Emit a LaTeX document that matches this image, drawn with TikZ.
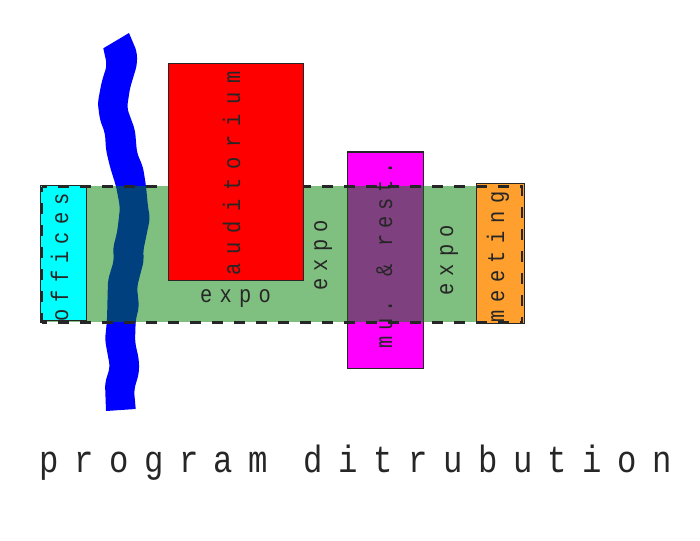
\documentclass[tikz,border=0pt]{standalone}
\usepackage{fontspec}
\setmainfont{Liberation Mono}
\newfontfamily\monofam[FakeStretch=0.85,Ligatures=NoCommon]{Liberation Mono}
\newcommand{\lblsize}[1]{\monofam\addfontfeature{LetterSpace=#1}\fontsize{24}{24}\selectfont}
\definecolor{ink}{HTML}{262626}
\definecolor{roomcyan}{HTML}{00FFFF}
\definecolor{roommag}{HTML}{FF00FF}
\definecolor{roomorange}{HTML}{FFA02E}
\definecolor{bandgreen}{HTML}{008000}
\tikzset{
  room/.style={draw=ink,line width=1pt,inner sep=0pt},
  lbl/.style={inner sep=0pt,text=ink,anchor=base west},
  vlbl/.style={lbl,rotate=90},
  dashline/.style={ink,line width=2.6pt,dash pattern=on 11pt off 11pt,dash phase=5.5pt},
}
\begin{document}
\begin{tikzpicture}[x=1pt,y=-1pt]
\useasboundingbox (0,0) rectangle (700,540);
\fill[white] (0,0) rectangle (700,540);
% river
\fill[blue,rounded corners=5pt] (103.3,48.3) -- (107,65) -- (101.7,81.7) -- (97.7,103) -- (100,120) -- (105,133) -- (106,150) -- (110,167) -- (116,186) -- (120,207) -- (119,217) -- (117,233) -- (113,248) -- (114,260) -- (108,280) -- (107,320) -- (105,340) -- (110,367) -- (105,383) [sharp corners] -- (106,411) -- (135.7,409) [rounded corners=5pt] -- (134,390) -- (139,373) -- (139,360) -- (135,342) -- (135.7,320) -- (139,307) -- (137,287) -- (144,260) -- (143,252) -- (150,218) -- (148,207) -- (146,186) -- (143,167) -- (137,153) -- (135,130) -- (127,108) -- (130,88) -- (137,65) -- (137,52) [sharp corners] -- (129,33) -- cycle;
% restaurant block under the band
\node[room,fill=roommag,minimum width=76pt,minimum height=216pt] (rest) at (385,260) {};
% expo band
\fill[bandgreen,fill opacity=0.5] (40,186) rectangle (524,322);
% end rooms
\node[room,fill=roomcyan,minimum width=46.7pt,minimum height=135.7pt] (offices) at (63.4,252.9) {};
\node[room,fill=roomorange,minimum width=47.3pt,minimum height=140pt] (meeting) at (500.4,253) {};
% dashed outline
\draw[dashline] (41.5,186.5) -- (522,186.5) -- (522,322.5);
\draw[dashline] (41.5,322.5) -- (522,322.5);
\draw[dashline] (41.5,186.5) -- (41.5,322.5);
% auditorium
\node[room,fill=red,minimum width=135pt,minimum height=216pt] (aud) at (235.5,172) {};
% labels
\node[vlbl,font=\lblsize{30}] (toff) at (68,322) {offices};
\node[vlbl,font=\lblsize{38}] (taud) at (240,276) {auditorium};
\node[lbl,font=\lblsize{30}] (texpoa) at (200,302) {expo};
\node[vlbl,font=\lblsize{30}] (texpob) at (327,291) {expo};
\node[vlbl,font=\lblsize{24}] (tmu) at (392,349) {mu. \& rest.};
\node[vlbl,font=\lblsize{30}] (texpoc) at (453,296) {expo};
\node[vlbl,font=\lblsize{32}] (tmeet) at (504,323) {meeting};
\node[lbl,font=\monofam\addfontfeature{LetterSpace=41}\fontsize{38}{38}\selectfont] (title) at (39,472) {program ditrubution};
\end{tikzpicture}
\end{document}
